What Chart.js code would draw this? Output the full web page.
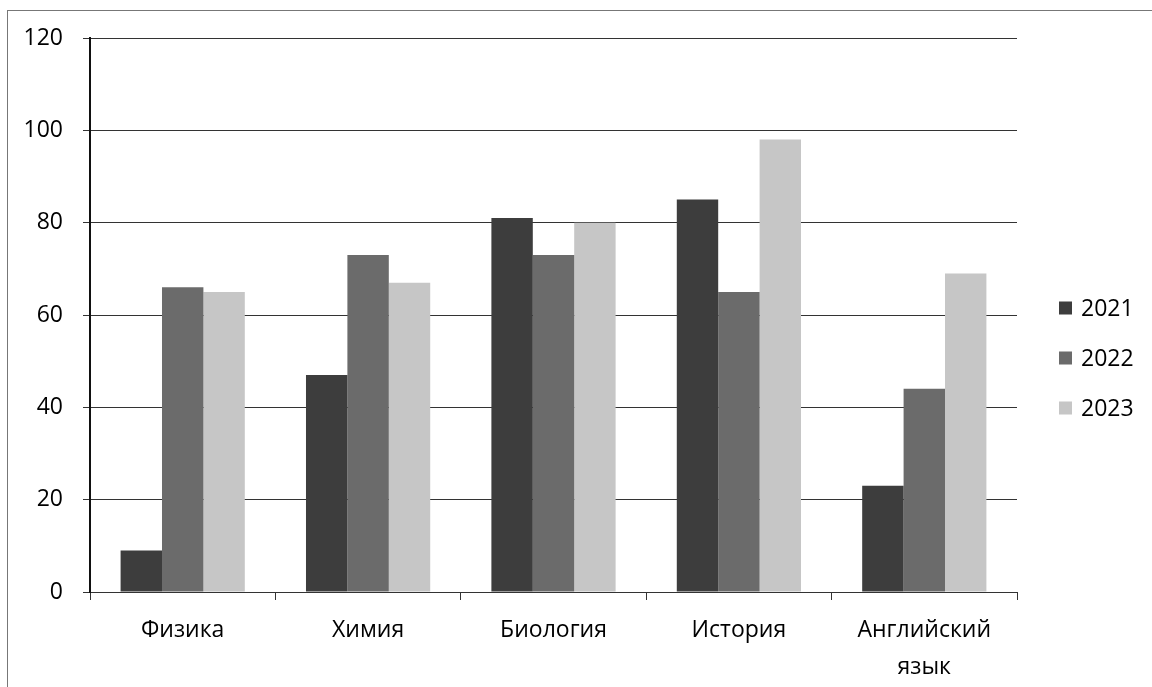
<!DOCTYPE html>
<html lang="ru">
<head>
<meta charset="utf-8">
<script src="https://cdn.jsdelivr.net/npm/chart.js@4.4.1/dist/chart.umd.min.js"></script>
<style>
    html, body { margin: 0; padding: 0; background: #fff; overflow: hidden; }
    #wrap { position: relative; width: 1152px; height: 687px; }
    #frame {
        position: absolute; left: 7px; top: 10px; width: 1200px; height: 700px;
        border-left: 1px solid #777; border-top: 1px solid #777;
    }
    canvas { position: absolute; left: 0; top: 0; }
</style>
</head>
<body>
<div id="wrap">
    <div id="frame"></div>
    <canvas id="chart" width="1152" height="687"></canvas>
</div>
<script>
const categories = ["Физика", "Химия", "Биология", "История", ["Английский", "язык"]];
const years = ["2021", "2022", "2023"];
const values2021 = [9, 47, 81, 85, 23];
const values2022 = [66, 73, 73, 65, 44];
const values2023 = [65, 67, 80, 98, 69];
const yTicks = [0, 20, 40, 60, 80, 100, 120];

const colors = ["#3d3d3d", "#6b6b6b", "#c6c6c6"];
const fontFamily = "'Open Sans', 'Noto Sans', sans-serif";
const textColor = "#000";

// legend on the right, drawn by hand so it sits where the original has it
const sideLegend = {
    id: "sideLegend",
    afterDraw(chart) {
        const ctx = chart.ctx;
        const x = chart.chartArea.right + 42;
        let y = 308;
        ctx.save();
        ctx.font = "23px " + fontFamily;
        ctx.textBaseline = "middle";
        chart.data.datasets.forEach(ds => {
            ctx.fillStyle = ds.backgroundColor;
            ctx.fillRect(x, y - 6.5, 13, 13);
            ctx.fillStyle = textColor;
            ctx.fillText(ds.label, x + 22, y + 1);
            y += 50;
        });
        ctx.restore();
    }
};

new Chart(document.getElementById("chart"), {
    type: "bar",
    data: {
        labels: categories,
        datasets: [
            {label: years[0], data: values2021, backgroundColor: colors[0]},
            {label: years[1], data: values2022, backgroundColor: colors[1]},
            {label: years[2], data: values2023, backgroundColor: colors[2]}
        ]
    },
    options: {
        responsive: false,
        devicePixelRatio: 1,
        animation: false,
        datasets: {bar: {barPercentage: 1, categoryPercentage: 0.67}},
        layout: {padding: {left: 8, top: 38, right: 135, bottom: 0}},
        plugins: {
            legend: {display: false},
            tooltip: {enabled: false}
        },
        scales: {
            x: {
                grid: {display: true, drawOnChartArea: false, drawTicks: true, tickLength: 8, color: "#333", offset: true},
                border: {display: true, color: "#333", width: 1},
                ticks: {
                    color: textColor,
                    padding: 12,
                    font: {family: fontFamily, size: 23, lineHeight: 1.6},
                    maxRotation: 0,
                    autoSkip: false
                },
                afterFit(scale) { scale.height = 95; }
            },
            y: {
                min: yTicks[0],
                max: yTicks[yTicks.length - 1],
                afterBuildTicks(scale) { scale.ticks = yTicks.map(v => ({value: v})); },
                grid: {color: "#333", lineWidth: 1, tickLength: 7},
                border: {display: true, color: "#111", width: 2},
                ticks: {
                    color: textColor,
                    padding: 20,
                    font: {family: fontFamily, size: 23}
                },
                afterFit(scale) { scale.width = 82; }
            }
        }
    },
    plugins: [sideLegend]
});
</script>
</body>
</html>
